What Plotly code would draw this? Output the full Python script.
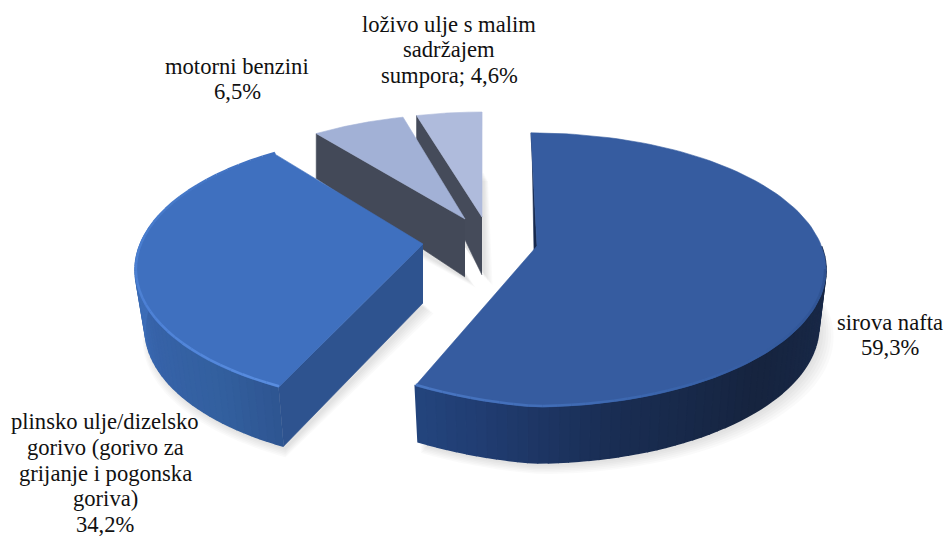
import numpy as np
import plotly.graph_objects as go

# ---- data -------------------------------------------------------------
categories = ["sirova nafta", "plinsko ulje/dizelsko gorivo (gorivo za grijanje i pogonska goriva)",
              "motorni benzini", "loživo ulje s malim sadržajem sumpora"]
values = [59.3, 34.2, 6.5, 4.6]
label_lines = [["sirova nafta", "59,3%"],
               ["plinsko ulje/dizelsko", "gorivo (gorivo za", "grijanje i pogonska", "goriva)", "34,2%"],
               ["motorni benzini", "6,5%"],
               ["loživo ulje s malim", "sadržajem", "sumpora; 4,6%"]]

# ---- drawing style: the pie geometry (pixels of the 944x538 canvas) ----
W, H = 944, 538
STYLE = [
    dict(cx=533, cy=270, rx=293, ry=137, ax=537, ay=246, off=-0.4, scale=1.0, h=56, shrink=.976, skew=24,
         top="#365ca0", rim=[(90, "#2f5190"), (150, "#3a64ab"), (205, "#4a78c4")],
         wall=[(80, "#1a2b4c"), (130, "#16243f"), (165, "#1a2e54"), (190, "#213d72"), (205, "#24467f")]),
    dict(cx=423, cy=270, rx=288, ry=135.5, ax=423, ay=244, off=6.0, scale=1.01, h=59, shrink=.965, skew=0,
         top="#3f70bf", rim=[(210, "#5a8ee0"), (245, "#4f83d8"), (285, "#4a7ecf"), (330, "#4070bf")],
         wall=[(208, "#2e5490"), (225, "#33609f"), (250, "#3763a9"), (270, "#3d6db7")],
         face="#2e538f", face_h=(59, 59)),
    dict(cx=465, cy=250, rx=288, ry=136, ax=465, ay=219, off=7.1, scale=.835, h=58, shrink=1, skew=0,
         top="#a2b1d6", rim=[], wall=[], face="#434958", face_h=(45, 58)),
    dict(cx=482, cy=248, rx=288, ry=136, ax=482, ay=217, off=2.7, scale=.83, h=58, shrink=1, skew=0,
         top="#afbbdc", rim=[], wall=[], face="#454b5a", face_h=(24, 58)),
]
LABEL_X = [890, 105, 237, 449]
LABEL_Y0 = [322, 421.5, 66, 24]
LINE_STEP = 25.8

total = sum(values)
sweep = [v / total * 360 for v in values]
starts = [sum(sweep[:i]) for i in range(len(sweep))]


def hex2rgb(c):
    return np.array([int(c[i:i + 2], 16) for i in (1, 3, 5)], float)


def ramp(stops, t):
    ts = [s[0] for s in stops]
    rgb = np.array([hex2rgb(s[1]) for s in stops])
    return "rgb(%d,%d,%d)" % tuple(np.interp(t, ts, rgb[:, k]) for k in range(3))


def rim_pt(s, deg, drop=0.0, k=1.0):
    a = np.radians(deg)
    u, v = np.sin(a), np.cos(a)
    x = s["cx"] + s["rx"] * k * u
    y = s["cy"] - s["ry"] * v + drop + s["skew"] * np.minimum(u, 0)
    return x, y


fig = go.Figure()


def poly(xs, ys, color, name=None, lw=0.6):
    fig.add_trace(go.Scatter(x=list(xs), y=list(ys), mode="lines", fill="toself", fillcolor=color,
                             line=dict(width=lw, color=color), hoverinfo="text" if name else "skip",
                             text=name, showlegend=False))


def stroke(xs, ys, color, width):
    fig.add_trace(go.Scatter(x=list(xs), y=list(ys), mode="lines", line=dict(width=width, color=color),
                             hoverinfo="skip", showlegend=False))


# soft ground shadows
for i, s in enumerate(STYLE):
    a0 = starts[i] + s["off"]
    a1 = a0 + sweep[i] * s["scale"]
    th = np.linspace(a0, a1, 80)
    for g in range(6):
        k = s["shrink"] * (1 + g * 0.006)
        x, y = rim_pt(s, th, s["h"] + 3 + g * 1.6, k)
        x = np.r_[s["ax"] + 3 + g * 1.5, x + g * 0.8 + 2]
        y = np.r_[s["ay"] + s["h"] + 3 + g * 1.5, y]
        fig.add_trace(go.Scatter(x=list(x), y=list(y), mode="none", fill="toself",
                                 fillcolor="rgba(120,120,120,0.04)", hoverinfo="skip", showlegend=False))

# back to front: the two small slices, then the larger ones
for i in (3, 2, 1, 0):
    s = STYLE[i]
    a0 = starts[i] + s["off"]
    a1 = a0 + sweep[i] * s["scale"]
    name = "%s: %s%%" % (categories[i], str(values[i]).replace(".", ","))
    th = np.linspace(a0, a1, 120)

    # outer wall, built of narrow strips to give the horizontal gradient
    if s["wall"]:
        lo = max(a0, s["wall"][0][0])
        edges = np.linspace(lo, a1, 61)
        for t0, t1 in zip(edges[:-1], edges[1:]):
            tt = np.linspace(t0, t1, 4)
            xt, yt = rim_pt(s, tt)
            xb, yb = rim_pt(s, tt[::-1], s["h"], s["shrink"])
            poly(np.r_[xt, xb], np.r_[yt, yb], ramp(s["wall"], (t0 + t1) / 2), lw=1.6)

    # cut face on the start side of the slice
    if "face" in s:
        cxx, cyy = rim_pt(s, a0)
        hc, ha = s["face_h"]
        cbx, cby = rim_pt(s, a0, hc, s["shrink"])
        poly([s["ax"], cxx, cbx, s["ax"]], [s["ay"], cyy, cby, s["ay"] + ha], s["face"])

    # thin dark sliver on the inner side of the biggest slice
    if i == 0:
        cxx, cyy = rim_pt(s, a0)
        poly([cxx, s["ax"], s["ax"] - 3, cxx + 1], [cyy, s["ay"], s["ay"] + 5, cyy + 6], "#16284d")

    # top face
    x, y = rim_pt(s, th)
    poly(np.r_[s["ax"], x, s["ax"]], np.r_[s["ay"], y, s["ay"]], s["top"], name)

    # bevelled rim
    if s["rim"]:
        lo = max(a0, s["rim"][0][0])
        edges = np.linspace(lo, a1, 41)
        for t0, t1 in zip(edges[:-1], edges[1:]):
            xx, yy = rim_pt(s, np.array([t0, t1]), -1.0, 0.997)
            stroke(xx, yy, ramp(s["rim"], (t0 + t1) / 2), 2.5)

annotations = []
for lines, lx, ly in zip(label_lines, LABEL_X, LABEL_Y0):
    for n, line in enumerate(lines):
        annotations.append(dict(x=lx, y=ly + n * LINE_STEP, text=line, showarrow=False,
                                xanchor="center", yanchor="middle", align="center",
                                font=dict(family="Liberation Serif", size=22.6, color="#111111")))

fig.update_layout(width=W, height=H, margin=dict(l=0, r=0, t=0, b=0), paper_bgcolor="white", plot_bgcolor="white",
                  xaxis=dict(range=[0, W], visible=False, fixedrange=True),
                  yaxis=dict(range=[H, 0], visible=False, fixedrange=True),
                  annotations=annotations, showlegend=False)
fig.write_html("out.html", config=dict(displayModeBar=False),
               post_script="document.body.style.margin='0';")
